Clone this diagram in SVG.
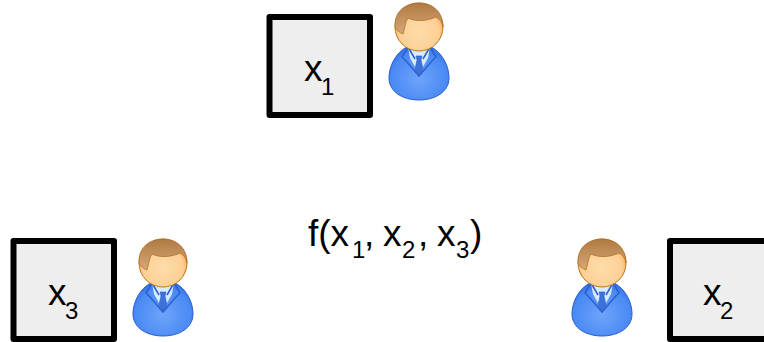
<svg xmlns="http://www.w3.org/2000/svg" width="764" height="342" viewBox="0 0 764 342">
<style>
.box{fill:#eeeeee;stroke:#000;stroke-width:6;stroke-linejoin:round}
text{font-family:"Liberation Sans",Arial,sans-serif;fill:#000}
.m{font-size:37px}
.s{font-size:24px}
</style>
<defs>
<radialGradient id="body" cx="0.5" cy="0.62" r="0.62">
<stop offset="0" stop-color="#6ea4fb"/><stop offset="0.75" stop-color="#4a8af4"/><stop offset="1" stop-color="#2f6be0"/>
</radialGradient>
<radialGradient id="face" cx="0.5" cy="0.6" r="0.55">
<stop offset="0" stop-color="#fedcaa"/><stop offset="0.75" stop-color="#fdd095"/><stop offset="1" stop-color="#f6a94e"/>
</radialGradient>
<linearGradient id="hair" x1="0" y1="0" x2="0" y2="1">
<stop offset="0" stop-color="#b07a42"/><stop offset="1" stop-color="#d8a878"/>
</linearGradient>
<symbol id="person" overflow="visible">
<path d="M0 44 C18 44 30 62 30 78 C30 92 16 100 0 100 C-16 100 -30 92 -30 78 C-30 62 -18 44 0 44Z" fill="url(#body)" stroke="#2a5fd0" stroke-width="1"/>
<path d="M-11 47 L11 47 L9 58 L0 74 L-9 58Z" fill="#d9ebff"/>
<path d="M-11 47 L-17 57 L-12 62 L0 76 L12 62 L17 57 L11 47 M-11 47 L-4 59 M11 47 L4 59" fill="none" stroke="#2c5fcf" stroke-width="1.5"/>
<path d="M-3 56 L3 56 L2 60 L4 69 L0 75 L-4 69 L-2 60Z" fill="#3f72d8" stroke="#2c5fcf" stroke-width="0.6"/>
<circle cx="0" cy="27" r="24" fill="url(#face)" stroke="#b87a20" stroke-width="1"/>
<path d="M-24 27 C-25 11 -13 3 0 3 C14 3 24 12 24 27 C23 22 21 19 17 17 C9 21 -3 22 -11 18 C-14 22 -14 28 -16 34 C-19 33 -23 30 -24 27Z" fill="url(#hair)" stroke="#a86a20" stroke-width="0.7"/>
</symbol>
</defs>
<g id="connectors"/>
<g id="node-x1">
<rect class="box" x="269.500" y="17" width="100.500" height="98"/>
<text x="304" y="81" class="m">x</text><text x="321" y="95" class="s">1</text>
<use href="#person" x="419" y="0"/>
</g>
<g id="node-x3">
<rect class="box" x="13.500" y="241" width="100.500" height="98"/>
<text x="48" y="305" class="m">x</text><text x="65" y="319" class="s">3</text>
<use href="#person" x="163" y="236"/>
</g>
<g id="node-x2">
<rect class="box" x="670" y="241" width="101" height="98"/>
<text x="703" y="305" class="m">x</text><text x="720" y="319" class="s">2</text>
<use href="#person" x="602" y="236"/>
</g>
<g id="node-f">
<text x="308" y="246" class="m">f(x</text><text x="352" y="258" class="s">1</text><text x="364" y="246" class="m">,</text><text x="383" y="246" class="m">x</text><text x="402" y="258" class="s">2</text><text x="418" y="246" class="m">,</text><text x="437" y="246" class="m">x</text><text x="456" y="258" class="s">3</text><text x="470" y="246" class="m">)</text>
</g>
</svg>
